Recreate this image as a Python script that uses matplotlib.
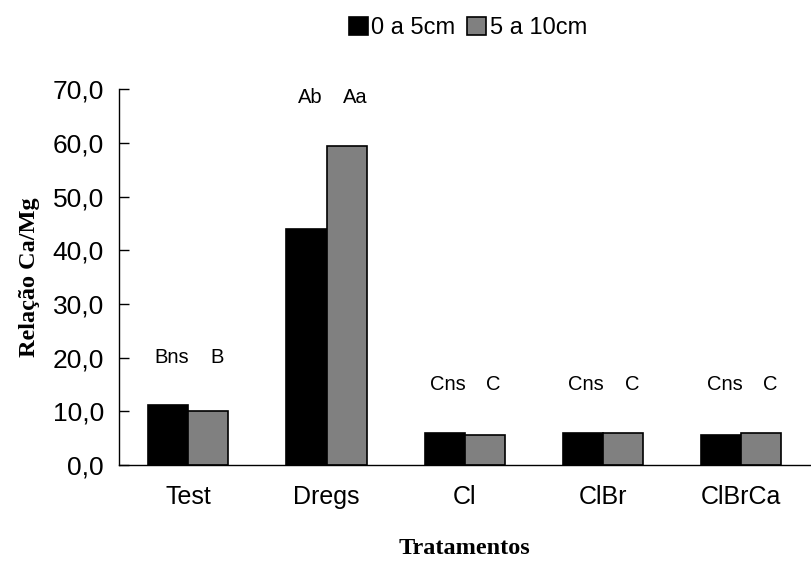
import matplotlib
matplotlib.use("Agg")
import matplotlib.pyplot as plt
import numpy as np

categories = ["Test", "Dregs", "Cl", "ClBr", "ClBrCa"]
series_names = ["0 a 5cm", "5 a 10cm"]
depth_0_5 = [11.2, 44.0, 6.0, 6.0, 5.6]
depth_5_10 = [10.1, 59.5, 5.6, 5.9, 6.0]
labels_0_5 = ["Bns", "Ab", "Cns", "Cns", "Cns"]
labels_5_10 = ["B", "Aa", "C", "C", "C"]
label_heights = [20.0, 68.5, 15.0, 15.0, 15.0]
yticks = [0, 10, 20, 30, 40, 50, 60, 70]

fig = plt.figure(figsize=(8.11, 5.61), dpi=100)
ax = fig.add_axes([0.147, 0.171, 0.852, 0.670])

x = np.arange(len(categories))
w = 0.29
ax.bar(x - w / 2, depth_0_5, w, color="black", edgecolor="black", linewidth=1.2, label=series_names[0])
ax.bar(x + w / 2, depth_5_10, w, color="#808080", edgecolor="black", linewidth=1.2, label=series_names[1])

for i in range(len(categories)):
    ax.text(x[i] - 0.12, label_heights[i], labels_0_5[i], ha="center", va="center",
            fontsize=14.5, family="Liberation Sans")
    ax.text(x[i] + 0.21, label_heights[i], labels_5_10[i], ha="center", va="center",
            fontsize=14.5, family="Liberation Sans")

ax.set_xlim(-0.5, len(categories) - 0.5)
ax.set_ylim(0, 70)
ax.set_yticks(yticks)
ax.set_yticklabels([f"{v:.1f}".replace(".", ",") for v in yticks], fontsize=19, family="Liberation Sans")
ax.set_xticks(x)
ax.set_xticklabels(categories, fontsize=18, family="Liberation Sans")
ax.tick_params(axis="y", direction="in", length=7, width=1, pad=11)
ax.tick_params(axis="x", length=0, pad=14)

for s in ["top", "right"]:
    ax.spines[s].set_visible(False)
ax.spines["left"].set_linewidth(1)
ax.spines["bottom"].set_linewidth(1)

ax.set_ylabel("Relação Ca/Mg", fontsize=17.5, fontweight="bold", family="Liberation Serif", labelpad=9)
ax.set_xlabel("Tratamentos", fontsize=17.5, fontweight="bold", family="Liberation Serif", labelpad=21)

leg = fig.legend(loc="center", bbox_to_anchor=(0.577, 0.95), ncol=2, frameon=False,
                 prop={"family": "Liberation Sans", "size": 17},
                 handlelength=0.8, handleheight=0.8, handletextpad=0.15, columnspacing=0.5)

fig.savefig("out.png", dpi=100)
